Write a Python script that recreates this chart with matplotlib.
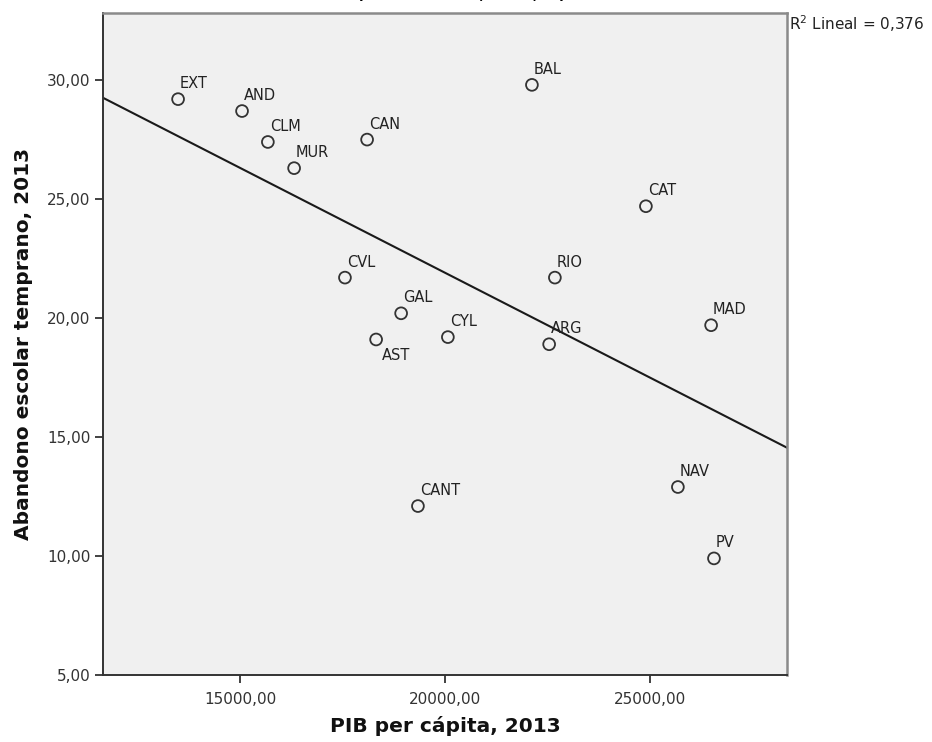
import numpy as np
import matplotlib
matplotlib.use("Agg")
from matplotlib import pyplot as plt
from matplotlib.ticker import FuncFormatter

# datos por comunidad autonoma
regiones = ["EXT", "AND", "CLM", "MUR", "CAN", "BAL", "CAT", "CVL", "RIO",
            "GAL", "AST", "CYL", "ARG", "MAD", "NAV", "CANT", "PV"]
pib = [13490, 15050, 15680, 16320, 18100, 22120, 24900, 17560, 22680,
       18930, 18320, 20070, 22540, 26490, 25680, 19340, 26560]
abandono = [29.2, 28.7, 27.4, 26.3, 27.5, 29.8, 24.7, 21.7, 21.7,
            20.2, 19.1, 19.2, 18.9, 19.7, 12.9, 12.1, 9.9]
r2_texto = "0,376"

# donde va cada etiqueta respecto al punto (pixeles, linea base)
desplaz = {"AST": (6, -21)}

W, H = 932, 742
fig = plt.figure(figsize=(W / 100, H / 100), dpi=100)
ax = fig.add_axes([103 / W, (H - 675) / H, (787 - 103) / W, (675 - 13) / H])
ax.set_facecolor("#f0f0f0")

ax.set_xlim(11659, 28341)
ax.set_ylim(5, 32.82)
ax.set_xticks([15000, 20000, 25000])
ax.set_yticks([5, 10, 15, 20, 25, 30])
coma = FuncFormatter(lambda v, p: f"{v:.2f}".replace(".", ","))
ax.xaxis.set_major_formatter(coma)
ax.yaxis.set_major_formatter(coma)
ax.tick_params(direction="out", length=6, width=1.3, color="#333333",
               labelsize=11, labelcolor="#333333", pad=3)
ax.tick_params(axis="x", pad=6)

for lado in ["left", "bottom"]:
    ax.spines[lado].set_color("#333333")
    ax.spines[lado].set_linewidth(1.4)
for lado in ["top", "right"]:
    ax.spines[lado].set_color("#8a8a8a")
    ax.spines[lado].set_linewidth(1.8)

# recta de ajuste lineal
m, b = np.polyfit(pib, abandono, 1)
xs = np.array(ax.get_xlim())
ax.plot(xs, m * xs + b, color="#1a1a1a", lw=1.5, zorder=2)

ax.scatter(pib, abandono, s=72, facecolors="none", edgecolors="#333333",
           linewidths=1.3, zorder=3)
for nom, x, y in zip(regiones, pib, abandono):
    dx, dy = desplaz.get(nom, (2, 11))
    ax.annotate(nom, (x, y), xytext=(dx, dy), textcoords="offset pixels",
                fontsize=10.5, color="#222222", va="baseline", ha="left")

ax.set_xlabel("PIB per cápita, 2013", fontsize=14.5, fontweight="bold",
              color="#111111")
ax.set_ylabel("Abandono escolar temprano, 2013", fontsize=14.5,
              fontweight="bold", color="#111111")
ax.xaxis.set_label_coords(0.5, -0.062)
ax.yaxis.set_label_coords(-0.102, 0.5)

fig.text(789 / W, 1 - 30 / H, "R$^2$ Lineal = " + r2_texto, fontsize=11,
         color="#222222", ha="left", va="baseline")

# titulo, cortado por el borde superior
fig.text(461 / W, 1 + 0.8 / H, "(Comunidades, 2013, %)", fontsize=11,
         fontweight="bold", ha="center", va="baseline")

fig.savefig("out.png", dpi=100)
